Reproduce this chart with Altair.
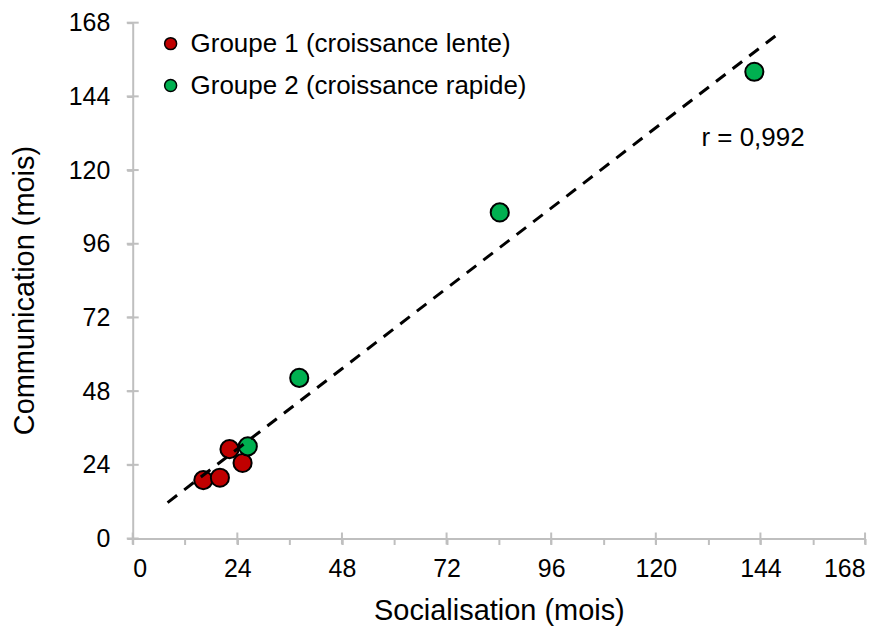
import altair as alt
import pandas as pd

# ---- data ----
group_names = ["Groupe 1 (croissance lente)", "Groupe 2 (croissance rapide)"]
group_colors = ["#C00000", "#00B050"]

g1_social = [16.2, 20.0, 22.2, 25.2]
g1_comm = [19.0, 19.8, 29.1, 24.6]
g2_social = [26.4, 38.2, 84.2, 142.6]
g2_comm = [30.0, 52.3, 106.2, 152.0]

trend_social = [8.0, 148.0]
trend_comm = [11.7, 164.3]

r_label = ["r = 0,992"]
r_pos_social = [142.3]
r_pos_comm = [130.5]

tick_values = [0, 12, 24, 36, 48, 60, 72, 84, 96, 108, 120, 132, 144, 156, 168]
major_ticks = [0, 24, 48, 72, 96, 120, 144, 168]

FONT = "Liberation Sans"
GREY = "#bfbfbf"

points = pd.DataFrame({
    "social": g1_social + g2_social,
    "comm": g1_comm + g2_comm,
    "groupe": [group_names[0]] * len(g1_social) + [group_names[1]] * len(g2_social),
})
trend = pd.DataFrame({"social": trend_social, "comm": trend_comm})
rtext = pd.DataFrame({"social": r_pos_social, "comm": r_pos_comm, "t": r_label})
majors = pd.DataFrame({"v": major_ticks})

xscale = alt.Scale(domain=[0, 168], nice=False, zero=False)
yscale = alt.Scale(domain=[0, 168], nice=False, zero=False)

axis_common = dict(
    values=tick_values,
    labelExpr="datum.value % 24 == 0 ? datum.label : ''",
    grid=False,
    domainColor=GREY, domainWidth=2,
    tickColor=GREY, tickWidth=2, tickSize=6,
    labelFont=FONT, labelFontSize=25, labelColor="black",
    titleFont=FONT, titleFontSize=29, titleFontWeight="normal", titleColor="black",
)

xaxis = alt.Axis(title="Socialisation (mois)", labelPadding=12,
                 titleBaseline="alphabetic", titleY=81, **axis_common)
yaxis = alt.Axis(title="Communication (mois)", labelPadding=17,
                 titleBaseline="alphabetic", titleX=-99, titleY=268, **axis_common)

pts = alt.Chart(points).mark_point(
    filled=True, size=330, stroke="black", strokeWidth=2, opacity=1
).encode(
    x=alt.X("social:Q", scale=xscale, axis=xaxis),
    y=alt.Y("comm:Q", scale=yscale, axis=yaxis),
    fill=alt.Fill(
        "groupe:N",
        scale=alt.Scale(domain=group_names, range=group_colors),
        legend=alt.Legend(
            title=None, orient="none", legendX=25, legendY=8,
            labelFont=FONT, labelFontSize=26, labelColor="black", labelLimit=0,
            symbolType="circle", symbolSize=144, symbolStrokeWidth=1.5,
            symbolStrokeColor="black", labelOffset=7, rowPadding=16, padding=0,
        ),
    ),
)

line = alt.Chart(trend).mark_line(
    color="black", strokeWidth=3, strokeDash=[12, 9]
).encode(
    x=alt.X("social:Q", scale=xscale),
    y=alt.Y("comm:Q", scale=yscale),
)

txt = alt.Chart(rtext).mark_text(
    font=FONT, fontSize=26, color="black", align="center", baseline="middle"
).encode(
    x=alt.X("social:Q", scale=xscale),
    y=alt.Y("comm:Q", scale=yscale),
    text="t:N",
)

xt = alt.Chart(majors).mark_tick(
    orient="vertical", size=12, thickness=2, color=GREY, opacity=1
).encode(
    x=alt.X("v:Q", scale=xscale),
    y=alt.datum(0, scale=yscale),
)
yt = alt.Chart(majors).mark_tick(
    orient="horizontal", size=12, thickness=2, color=GREY, opacity=1
).encode(
    y=alt.Y("v:Q", scale=yscale),
    x=alt.datum(0, scale=xscale),
)

chart = alt.layer(xt, yt, pts, line, txt).properties(
    width=734, height=517,
    autosize=alt.AutoSizeParams(type="none"),
    padding={"left": 125, "top": 14, "right": 20, "bottom": 89},
).configure_view(stroke=None)

chart.save("out.html", embed_options={"renderer": "svg", "actions": False})
